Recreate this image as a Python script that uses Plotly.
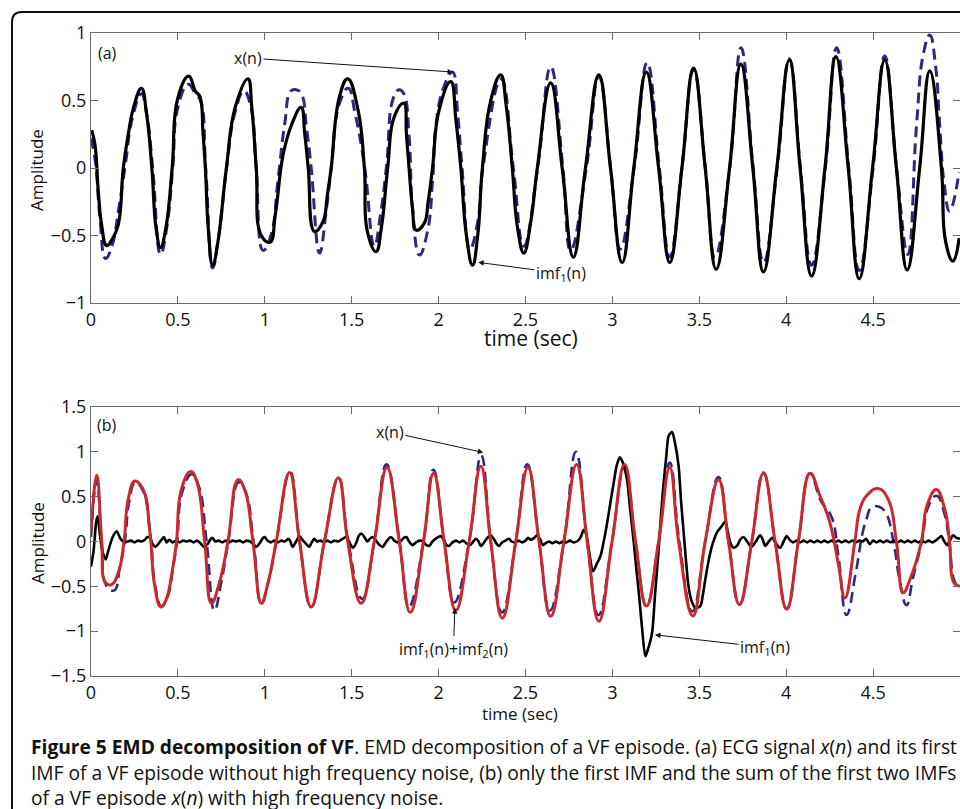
import plotly.graph_objects as go

W, H = 960, 809

# ---------------- data ----------------
X_TICKS = [0, 0.5, 1, 1.5, 2, 2.5, 3, 3.5, 4, 4.5, 5]
X_TICK_TEXT = ["0", "0.5", "1", "1.5", "2", "2.5", "3", "3.5", "4", "4.5", "5"]
YA_TICKS = [-1, -0.5, 0, 0.5, 1]
YA_TICK_TEXT = ["\u22121", "\u22120.5", "0", "0.5", "1"]
YB_TICKS = [-1.5, -1, -0.5, 0, 0.5, 1, 1.5]
YB_TICK_TEXT = ["\u22121.5", "\u22121", "\u22120.5", "0", "0.5", "1", "1.5"]

# panel (a): imf1(n), solid black
A_T_IMF1 = [0.004, 0.023, 0.042, 0.061, 0.09, 0.125, 0.157, 0.186, 0.214, 0.245, 0.29, 0.32, 0.35, 0.375,
            0.40, 0.43, 0.467, 0.50, 0.563, 0.60, 0.626, 0.645, 0.658, 0.675, 0.70, 0.73, 0.779, 0.83,
            0.903, 0.925, 0.951, 0.98, 1.03, 1.06, 1.095, 1.114, 1.16, 1.209, 1.23, 1.25, 1.286, 1.334,
            1.36, 1.382, 1.43, 1.477, 1.535, 1.573, 1.59, 1.64, 1.67, 1.707, 1.745, 1.80, 1.815, 1.83,
            1.85, 1.87, 1.917, 1.94, 1.965, 2.003, 2.07, 2.10, 2.128, 2.16, 2.195, 2.225, 2.252, 2.30,
            2.357, 2.39, 2.424, 2.455, 2.49, 2.53, 2.568, 2.645, 2.711, 2.775, 2.845, 2.922, 2.989,
            3.056, 3.123, 3.195, 3.266, 3.33, 3.40, 3.467, 3.534, 3.597, 3.674, 3.739, 3.808, 3.869,
            3.946, 4.018, 4.08, 4.146, 4.223, 4.286, 4.357, 4.42, 4.497, 4.567, 4.634, 4.696, 4.768,
            4.826, 4.893, 4.918, 4.96, 4.995]
A_IMF1 = [0.28, 0.17, -0.175, -0.42, -0.575, -0.52, -0.42, 0.0, 0.245, 0.45, 0.59, 0.40, 0.0, -0.45,
          -0.59, -0.45, 0.0, 0.52, 0.68, 0.57, 0.53, 0.25, 0.0, -0.45, -0.72, -0.55, 0.0, 0.45,
          0.66, 0.45, 0.0, -0.50, -0.55, -0.35, 0.02, 0.15, 0.34, 0.45, 0.25, 0.0, -0.47, -0.40,
          -0.20, 0.0, 0.53, 0.66, 0.44, 0.0, -0.47, -0.62, -0.45, 0.0, 0.38, 0.48, 0.25, 0.0,
          -0.30, -0.46, -0.41, -0.25, 0.0, 0.43, 0.64, 0.35, 0.0, -0.50, -0.72, -0.50, 0.0, 0.50,
          0.69, 0.45, 0.0, -0.45, -0.63, -0.40, 0.0, 0.63, 0.0, -0.66, 0.0, 0.69, 0.0,
          -0.70, 0.0, 0.71, 0.0, -0.70, 0.0, 0.74, 0.0, -0.75, 0.0, 0.77, 0.0, -0.77,
          0.0, 0.80, 0.0, -0.80, 0.0, 0.825, 0.0, -0.82, 0.0, 0.80, 0.0, -0.755, 0.0,
          0.72, 0.0, -0.55, -0.69, -0.52]

# panel (a): x(n), dashed navy
A_T_X = [0.0, 0.025, 0.05, 0.084, 0.12, 0.16, 0.195, 0.24, 0.29, 0.32, 0.355, 0.40, 0.435, 0.47, 0.50,
         0.56, 0.60, 0.63, 0.66, 0.70, 0.735, 0.78, 0.83, 0.88, 0.92, 0.95, 0.99, 1.035, 1.075, 1.114,
         1.15, 1.18, 1.21, 1.24, 1.267, 1.315, 1.353, 1.382, 1.43, 1.48, 1.52, 1.575, 1.63, 1.665,
         1.70, 1.74, 1.774, 1.80, 1.83, 1.85, 1.89, 1.936, 1.965, 1.985, 2.03, 2.08, 2.11, 2.135,
         2.18, 2.225, 2.255, 2.36, 2.43, 2.49, 2.57, 2.645, 2.715, 2.76, 2.85, 2.922, 2.99, 3.045,
         3.125, 3.20, 3.27, 3.33, 3.40, 3.467, 3.535, 3.59, 3.675, 3.74, 3.81, 3.87, 3.948, 4.018,
         4.082, 4.146, 4.225, 4.29, 4.36, 4.42, 4.50, 4.567, 4.635, 4.70, 4.75, 4.79, 4.826, 4.86,
         4.883, 4.91, 4.94, 4.995]
A_X = [0.22, 0.05, -0.35, -0.67, -0.58, -0.30, 0.0, 0.38, 0.55, 0.40, 0.0, -0.64, -0.45, 0.0, 0.45,
       0.62, 0.55, 0.50, 0.0, -0.74, -0.50, 0.0, 0.42, 0.57, 0.45, 0.0, -0.61, -0.50, -0.10, 0.32,
       0.57, 0.58, 0.55, 0.30, 0.0, -0.63, -0.32, 0.0, 0.48, 0.59, 0.40, 0.0, -0.58, -0.35,
       0.01, 0.52, 0.58, 0.55, 0.24, -0.30, -0.645, -0.47, -0.10, 0.32, 0.60, 0.71, 0.40, 0.0,
       -0.60, -0.40, 0.0, 0.66, 0.0, -0.58, 0.0, 0.75, 0.0, -0.61, 0.0, 0.68, 0.0, -0.60,
       0.0, 0.78, 0.0, -0.66, 0.0, 0.73, 0.0, -0.66, 0.0, 0.89, 0.0, -0.70, 0.0, 0.81,
       0.0, -0.72, 0.0, 0.89, 0.0, -0.76, 0.0, 0.83, 0.0, -0.64, 0.32, 0.85, 0.985, 0.75,
       0.32, -0.13, -0.32, -0.03]

# panel (b): x(n), dashed navy
B_T_X = [0.0, 0.033, 0.061, 0.09, 0.134, 0.166, 0.195, 0.22, 0.255, 0.30, 0.34, 0.37, 0.405, 0.44, 0.475,
         0.495, 0.525, 0.58, 0.62, 0.665, 0.71, 0.75, 0.79, 0.85, 0.89, 0.935, 0.98, 1.02, 1.066,
         1.145, 1.20, 1.267, 1.343, 1.424, 1.48, 1.56, 1.63, 1.70, 1.775, 1.83, 1.913, 1.97, 2.032,
         2.09, 2.176, 2.245, 2.30, 2.365, 2.444, 2.51, 2.578, 2.64, 2.721, 2.79, 2.855, 2.92, 2.998,
         3.07, 3.133, 3.196, 3.266, 3.33, 3.385, 3.46, 3.534, 3.61, 3.668, 3.731, 3.802, 3.869,
         3.936, 4.003, 4.07, 4.137, 4.20, 4.26, 4.30, 4.347, 4.40, 4.44, 4.462, 4.49, 4.53, 4.57,
         4.615, 4.65, 4.692, 4.73, 4.78, 4.82, 4.865, 4.912, 4.94, 4.97, 5.0]
B_X = [0.05, 0.68, 0.0, -0.50, -0.545, -0.28, 0.0, 0.45, 0.66, 0.56, 0.10, -0.50, -0.72, -0.62, -0.25,
       0.0, 0.55, 0.75, 0.62, 0.0, -0.77, -0.45, 0.0, 0.66, 0.55, 0.0, -0.69, -0.45, 0.0,
       0.78, 0.0, -0.73, 0.0, 0.71, 0.0, -0.64, 0.0, 0.86, 0.0, -0.72, 0.0, 0.80, 0.0,
       -0.68, 0.0, 0.96, 0.0, -0.79, 0.0, 0.86, 0.0, -0.77, 0.0, 1.0, 0.0, -0.82, 0.0,
       0.84, 0.0, -0.72, 0.0, 0.88, 0.0, -0.78, 0.0, 0.72, 0.0, -0.70, 0.0, 0.77,
       0.0, -0.75, 0.0, 0.76, 0.45, 0.28, -0.16, -0.82, -0.35, 0.10, 0.25, 0.38, 0.39, 0.33,
       0.02, -0.40, -0.71, -0.40, 0.0, 0.40, 0.51, 0.30, -0.05, -0.45, -0.52]

# panel (b): imf1(n)+imf2(n), solid red
B_T_SUM = [0.0, 0.033, 0.061, 0.084, 0.118, 0.157, 0.19, 0.214, 0.253, 0.30, 0.339, 0.367, 0.402, 0.43,
           0.472, 0.492, 0.52, 0.574, 0.61, 0.654, 0.693, 0.74, 0.788, 0.846, 0.884, 0.932, 0.98, 1.02,
           1.066, 1.142, 1.20, 1.267, 1.343, 1.424, 1.477, 1.554, 1.63, 1.703, 1.774, 1.837, 1.913,
           1.971, 2.032, 2.099, 2.176, 2.243, 2.30, 2.367, 2.444, 2.514, 2.578, 2.645, 2.721, 2.794,
           2.855, 2.922, 2.998, 3.07, 3.133, 3.196, 3.266, 3.33, 3.381, 3.463, 3.534, 3.611, 3.668,
           3.731, 3.802, 3.869, 3.936, 4.003, 4.07, 4.137, 4.194, 4.25, 4.30, 4.338, 4.395, 4.424,
           4.462, 4.529, 4.587, 4.634, 4.673, 4.711, 4.778, 4.81, 4.864, 4.912, 4.94, 4.965, 5.0]
B_SUM = [0.10, 0.74, 0.02, -0.46, -0.48, -0.35, 0.0, 0.47, 0.675, 0.58, 0.10, -0.50, -0.73, -0.66,
         -0.28, 0.0, 0.58, 0.78, 0.66, 0.0, -0.69, -0.45, 0.0, 0.69, 0.58, 0.0, -0.69, -0.45,
         0.0, 0.77, 0.0, -0.73, 0.0, 0.71, 0.0, -0.69, 0.0, 0.825, 0.0, -0.79, 0.0,
         0.76, 0.0, -0.77, 0.0, 0.84, 0.0, -0.855, 0.0, 0.825, 0.0, -0.835, 0.0, 0.86,
         0.0, -0.89, 0.0, 0.86, 0.0, -0.72, 0.0, 0.825, 0.0, -0.83, 0.0, 0.69, 0.0,
         -0.705, 0.0, 0.76, 0.0, -0.755, 0.0, 0.76, 0.51, 0.22, -0.25, -0.63, 0.0, 0.36,
         0.51, 0.59, 0.47, 0.0, -0.57, -0.43, 0.0, 0.40, 0.58, 0.36, 0.0, -0.46, -0.50]

# panel (b): imf1(n), solid black
B_T_IMF1 = [0.0, 0.015, 0.03, 0.038, 0.05, 0.065, 0.084, 0.10, 0.125, 0.147, 0.17, 0.19, 0.21, 0.23, 0.25,
            0.27, 0.29, 0.31, 0.325, 0.34, 0.355, 0.37, 0.39, 0.41, 0.42, 0.435, 0.45, 0.47, 0.49, 0.51,
            0.53, 0.55, 0.57, 0.59, 0.61, 0.63, 0.65, 0.67, 0.69, 0.70, 0.715, 0.735, 0.755, 0.775,
            0.795, 0.815, 0.835, 0.855, 0.875, 0.895, 0.915, 0.935, 0.95, 0.97, 0.99, 1.0, 1.015,
            1.035, 1.055, 1.075, 1.095, 1.115, 1.135, 1.145, 1.16, 1.18, 1.2, 1.215, 1.235, 1.255,
            1.27, 1.285, 1.30, 1.32, 1.34, 1.36, 1.38, 1.40, 1.42, 1.44, 1.468, 1.485, 1.506, 1.525,
            1.54, 1.554, 1.57, 1.59, 1.605, 1.62, 1.64, 1.66, 1.678, 1.70, 1.726, 1.745, 1.765, 1.785,
            1.80, 1.815, 1.83, 1.85, 1.87, 1.89, 1.91, 1.93, 1.945, 1.965, 1.99, 2.013, 2.03, 2.045,
            2.06, 2.08, 2.10, 2.12, 2.14, 2.16, 2.18, 2.20, 2.215, 2.23, 2.243, 2.265, 2.285, 2.30,
            2.32, 2.335, 2.348, 2.365, 2.385, 2.405, 2.42, 2.44, 2.46, 2.48, 2.50, 2.515, 2.53, 2.55,
            2.568, 2.585, 2.60, 2.615, 2.635, 2.655, 2.675, 2.695, 2.715, 2.735, 2.755, 2.775, 2.795,
            2.815, 2.836, 2.85, 2.865, 2.889, 2.91, 2.931, 2.95, 2.97, 2.99, 3.008, 3.025, 3.043,
            3.06, 3.084, 3.10, 3.123, 3.14, 3.152, 3.17, 3.19, 3.205, 3.228, 3.245, 3.266, 3.28,
            3.295, 3.31, 3.324, 3.343, 3.36, 3.381, 3.395, 3.41, 3.425, 3.438, 3.455, 3.477, 3.506,
            3.52, 3.534, 3.55, 3.573, 3.601, 3.625, 3.649, 3.665, 3.678, 3.698, 3.72, 3.735, 3.754,
            3.775, 3.80, 3.825, 3.85, 3.865, 3.88, 3.90, 3.92, 3.94, 3.965, 3.985, 4.003, 4.02, 4.04,
            4.06, 4.08, 4.10, 4.12, 4.14, 4.16, 4.18, 4.20, 4.22, 4.24, 4.26, 4.28, 4.30, 4.32, 4.34,
            4.36, 4.38, 4.40, 4.42, 4.44, 4.46, 4.48, 4.50, 4.52, 4.54, 4.56, 4.58, 4.60, 4.62, 4.64,
            4.66, 4.68, 4.70, 4.72, 4.74, 4.76, 4.78, 4.80, 4.82, 4.84, 4.86, 4.878, 4.893, 4.91,
            4.925, 4.945, 4.96, 4.98, 5.0]
B_IMF1 = [-0.28, -0.10, 0.22, 0.28, 0.10, -0.10, -0.20, -0.10, 0.05, 0.115, 0.03, -0.01, 0.0, 0.01, -0.01,
          0.01, 0.0, 0.02, 0.05, 0.04, -0.03, -0.06, -0.02, 0.03, 0.05, -0.01, 0.02, -0.01, 0.01, -0.01,
          0.01, 0.0, 0.01, -0.01, 0.01, -0.02, -0.06, -0.03, 0.03, 0.04, 0.0, 0.01, -0.01, 0.01,
          -0.01, 0.01, 0.0, 0.01, -0.01, 0.01, 0.0, -0.03, -0.06, -0.02, 0.04, 0.05, 0.01,
          -0.01, 0.01, -0.01, 0.01, 0.0, 0.03, 0.01, -0.06, 0.0, 0.06, 0.02, -0.02, -0.06,
          -0.01, 0.03, 0.0, 0.01, -0.01, 0.01, -0.01, 0.01, 0.0, 0.02, 0.05, 0.0, -0.07, -0.02,
          0.06, 0.09, 0.06, 0.0, 0.03, 0.05, 0.01, -0.04, -0.06, 0.0, 0.05, 0.01, -0.01, 0.01,
          0.04, 0.05, 0.0, -0.04, -0.01, 0.01, 0.0, -0.04, -0.05, 0.0, 0.04, 0.06, 0.02, -0.04,
          -0.05, -0.01, 0.01, -0.01, 0.01, -0.02, -0.04, 0.0, 0.03, 0.0, -0.05, 0.0, 0.05, 0.07,
          0.02, -0.03, -0.05, -0.01, 0.01, 0.03, 0.0, -0.01, 0.01, -0.01, 0.01, 0.04, 0.02, 0.04,
          0.07, 0.02, -0.04, -0.02, 0.0, -0.02, 0.0, -0.02, 0.0, -0.01, 0.01, -0.01, 0.0,
          0.04, 0.13, 0.08, -0.10, -0.33, -0.25, -0.165, 0.0, 0.21, 0.45, 0.66, 0.85, 0.94,
          0.88, 0.69, 0.40, -0.01, -0.35, -0.57, -0.95, -1.28, -1.20, -1.02, -0.60, -0.09, 0.30,
          0.66, 0.95, 1.18, 1.22, 1.10, 0.84, 0.45, 0.10, -0.25, -0.50, -0.66, -0.74, -0.72,
          -0.60, -0.43, -0.25, -0.05, 0.10, 0.16, 0.22, 0.10, -0.01, -0.07, -0.04, 0.02, 0.05,
          0.0, -0.06, 0.0, 0.07, 0.02, -0.05, 0.0, 0.04, -0.02, -0.07, 0.0, 0.06, 0.02, -0.01,
          0.01, -0.01, 0.01, -0.01, 0.01, -0.01, 0.01, -0.01, 0.01, -0.01, 0.01, -0.01, 0.01, -0.01, 0.01,
          -0.01, 0.01, -0.01, 0.01, 0.0, 0.03, -0.03, 0.01, -0.01, 0.01, -0.01, 0.01, -0.01, 0.01, -0.01,
          0.01, -0.01, 0.01, -0.01, 0.01, -0.01, 0.01, -0.01, 0.01, -0.01, 0.01, 0.04, 0.06, 0.0,
          -0.04, 0.02, 0.07, 0.04, 0.03]

CAPTION = [
    "<b>Figure 5 EMD decomposition of VF</b>. EMD decomposition of a VF episode. (a) ECG signal <i>x</i>(<i>n</i>) and its first",
    "IMF of a VF episode without high frequency noise, (b) only the first IMF and the sum of the first two IMFs",
    "of a VF episode <i>x</i>(<i>n</i>) with high frequency noise.",
]

# ---------------- styles ----------------
FONT = "Open Sans"
NAVY = "#2b2a80"
RED = "#c8282e"
AXC = "#6a6a6a"


def px_x(p):
    return p / W


def px_y(p):
    return 1 - p / H


fig = go.Figure()

fig.add_trace(go.Scatter(x=A_T_X, y=A_X, mode="lines", xaxis="x", yaxis="y",
                         line=dict(color=NAVY, width=3, dash="11px,6px", shape="spline", smoothing=1.3),
                         hoverinfo="skip"))
fig.add_trace(go.Scatter(x=A_T_IMF1, y=A_IMF1, mode="lines", xaxis="x", yaxis="y",
                         line=dict(color="black", width=3.2, shape="spline", smoothing=1.3),
                         hoverinfo="skip"))
fig.add_trace(go.Scatter(x=B_T_X, y=B_X, mode="lines", xaxis="x2", yaxis="y2",
                         line=dict(color=NAVY, width=2.6, dash="11px,6px", shape="spline", smoothing=1.3),
                         hoverinfo="skip"))
fig.add_trace(go.Scatter(x=B_T_IMF1, y=B_IMF1, mode="lines", xaxis="x2", yaxis="y2",
                         line=dict(color="black", width=2.6, shape="spline", smoothing=0.8),
                         hoverinfo="skip"))
fig.add_trace(go.Scatter(x=B_T_SUM, y=B_SUM, mode="lines", xaxis="x2", yaxis="y2",
                         line=dict(color=RED, width=3, shape="spline", smoothing=1.3),
                         hoverinfo="skip"))

common_x = dict(range=[0, 5], tickvals=X_TICKS, ticktext=X_TICK_TEXT, ticks="inside", ticklen=7,
                tickcolor=AXC, showline=True, linecolor=AXC, linewidth=1, mirror="ticks",
                showgrid=False, zeroline=False, tickfont=dict(family=FONT, size=18, color="#111"),
                domain=[px_x(91), 1.0], fixedrange=True, automargin=False)
common_y = dict(ticks="inside", ticklen=7, tickcolor=AXC, showline=True, linecolor=AXC, linewidth=1,
                mirror="ticks", showgrid=False, zeroline=False, automargin=False,
                tickfont=dict(family=FONT, size=18, color="#111"), fixedrange=True)

layout = dict(
    width=W, height=H, margin=dict(l=0, r=0, t=0, b=0, pad=0, autoexpand=False),
    paper_bgcolor="white", plot_bgcolor="white", showlegend=False,
    xaxis=dict(common_x, anchor="y"),
    yaxis=dict(common_y, anchor="x", range=[-1, 1], tickvals=YA_TICKS, ticktext=YA_TICK_TEXT,
               domain=[px_y(303), px_y(33)]),
    xaxis2=dict(common_x, anchor="y2"),
    yaxis2=dict(common_y, anchor="x2", range=[-1.5, 1.5], tickvals=YB_TICKS, ticktext=YB_TICK_TEXT,
                domain=[px_y(676), px_y(407)]),
)
fig.update_layout(**layout)


def label(text, x, y, size, angle=0):
    return dict(text=text, xref="paper", yref="paper", x=px_x(x), y=px_y(y), xanchor="center",
                yanchor="middle", textangle=angle, showarrow=False,
                font=dict(family=FONT, size=size, color="#111"))


ann = []
# axis titles and panel labels
for yy in (170, 543):
    ann.append(label("Amplitude", 37, yy, 17, -90))
ann.append(label("time (sec)", 531, 338, 21))
ann.append(label("time (sec)", 520, 713, 17))
ann.append(label("(a)", 107, 53, 16))
ann.append(label("(b)", 107, 425, 16))

arrow = dict(showarrow=True, arrowhead=2, arrowsize=1.1, arrowwidth=1, arrowcolor="#111",
             font=dict(family=FONT, size=16, color="#111"))
ann.append(dict(arrow, text="x(n)", xref="x", yref="y", axref="x", ayref="y",
                x=2.083, y=0.711, ax=0.903, ay=0.815))
ann.append(dict(arrow, text="imf<sub>1</sub>(n)", xref="x", yref="y", axref="x", ayref="y",
                x=2.228, y=-0.699, ax=2.704, ay=-0.78))
ann.append(dict(arrow, text="x(n)", xref="x2", yref="y2", axref="x2", ayref="y2",
                x=2.257, y=0.993, ax=1.720, ay=1.221))
ann.append(dict(arrow, text="imf<sub>1</sub>(n)+imf<sub>2</sub>(n)", xref="x2", yref="y2", axref="x2",
                ayref="y2", x=2.094, y=-0.742, ax=2.085, ay=-1.20))
ann.append(dict(arrow, text="imf<sub>1</sub>(n)", xref="x2", yref="y2", axref="x2", ayref="y2",
                x=3.245, y=-1.041, ax=3.878, ay=-1.18))

# caption
for line, yy in zip(CAPTION, (746, 772, 797)):
    ann.append(dict(text=line, xref="paper", yref="paper", x=px_x(29), y=px_y(yy), xanchor="left",
                    yanchor="middle", showarrow=False, font=dict(family=FONT, size=19.2, color="#111")))

fig.update_layout(annotations=ann)

# outer rounded frame (top-left corner visible)
r = 10
path = (f"M {px_x(12)},{px_y(H + 20)} L {px_x(12)},{px_y(12 + r)} "
        f"Q {px_x(12)},{px_y(12)} {px_x(12 + r)},{px_y(12)} L {px_x(W + 20)},{px_y(12)}")
fig.add_shape(type="path", path=path, xref="paper", yref="paper", line=dict(color="#111", width=2))

fig.write_html("out.html", config={"displayModeBar": False},
               post_script="document.body.style.margin='0px';document.body.style.overflow='hidden';")
